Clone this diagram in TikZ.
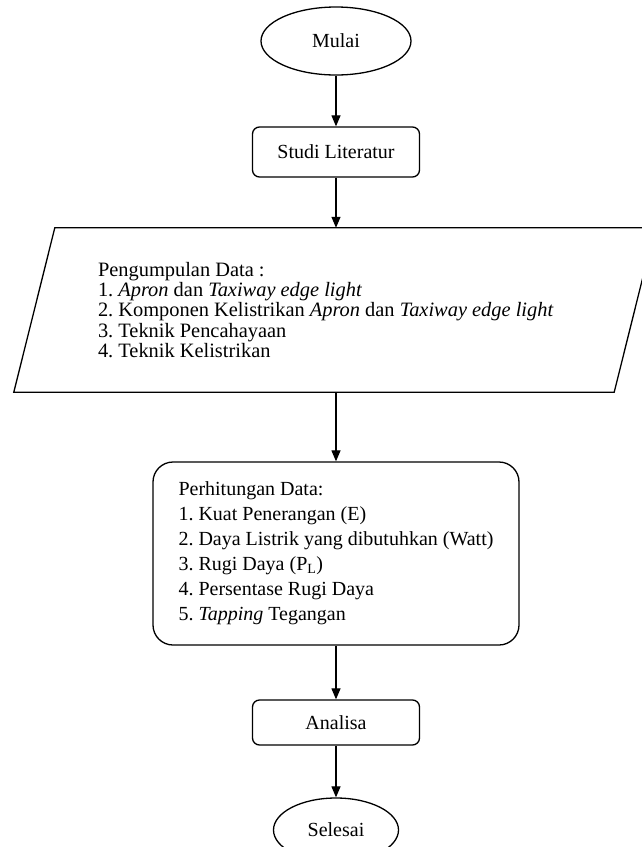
\documentclass[tikz,border=0pt]{standalone}
\usepackage{fontspec}
\setmainfont{Liberation Serif}
\usetikzlibrary{positioning,arrows.meta,shapes.geometric}
\tikzset{
  flowarrow/.style={-{Triangle[length=11pt,width=9pt]}, line width=1.2pt},
  terminal/.style={draw, ellipse, line width=1.3pt, inner sep=0pt},
  procbox/.style={draw, rounded corners=7pt, line width=1.3pt, minimum width=167pt, minimum height=50pt, align=center},
  iotext/.style={text width=473pt, inner xsep=63.5pt, minimum height=164pt, align=flush left, font=\fontsize{20.4}{20.2}\selectfont\frenchspacing},
  ioedge/.style={line width=1.3pt, line join=miter},
  calcbox/.style={draw, rounded corners=20pt, line width=1.3pt, minimum width=366pt, minimum height=183pt, align=left, font=\fontsize{20}{25}\selectfont\frenchspacing}
}

\begin{document}
\begin{tikzpicture}[x=1pt, y=-1pt, every node/.style={font=\fontsize{20}{20}\selectfont\frenchspacing}]
  \useasboundingbox (0,0) rectangle (641,847);
  \node[terminal, minimum width=150pt, minimum height=68pt] (mulai) at (336,41) {Mulai};
  \node[procbox] (studi) at (336,152) {Studi Literatur};
  \node[iotext] (kumpul) at (334.5,310) {Pengumpulan Data :\\
    1. \textit{Apron} dan \textit{Taxiway edge light}\\
    2. Komponen Kelistrikan \textit{Apron} dan \textit{Taxiway edge light}\\
    3. Teknik Pencahayaan\\
    4. Teknik Kelistrikan};
  % parallelogram round the data list
  \draw[ioedge] ([xshift=-20.5pt]kumpul.south west) -- ([xshift=-20.5pt]kumpul.south east)
    -- ([xshift=20.5pt]kumpul.north east) -- ([xshift=20.5pt]kumpul.north west) -- cycle;
  \node[calcbox] (hitung) at (336,553.5) {Perhitungan Data:\\
    1. Kuat Penerangan (E)\\
    2. Daya Listrik yang dibutuhkan (Watt)\\
    3. Rugi Daya (P\textsubscript{L})\\
    4. Persentase Rugi Daya\\
    5. \textit{Tapping} Tegangan};
  \node[procbox, minimum height=45pt] (analisa) at (336,722.5) {Analisa};
  \node[terminal, minimum width=125pt, minimum height=64pt] (selesai) at (336,830) {Selesai};
  \draw[flowarrow] (mulai) -- (studi);
  \draw[flowarrow] (studi) -- (studi |- kumpul.north);
  \draw[flowarrow] (hitung |- kumpul.south) -- (hitung);
  \draw[flowarrow] (hitung) -- (analisa);
  \draw[flowarrow] (analisa) -- (selesai);
\end{tikzpicture}
\end{document}
